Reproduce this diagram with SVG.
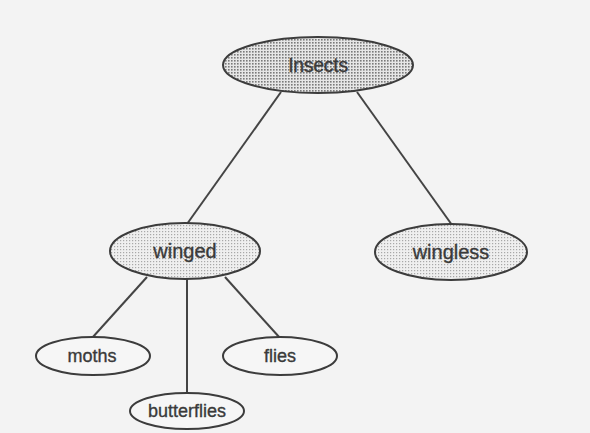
<svg xmlns="http://www.w3.org/2000/svg" width="590" height="433" viewBox="0 0 590 433">
<defs>
<pattern id="dark" width="3" height="3" patternUnits="userSpaceOnUse">
<rect width="3" height="3" fill="#e6e6e6"/>
<rect x="0" y="0" width="1.6" height="1.6" fill="#7a7a7a"/>
</pattern>
<pattern id="light" width="3" height="3" patternUnits="userSpaceOnUse">
<rect width="3" height="3" fill="#efefef"/>
<rect x="0" y="0" width="1.2" height="1.2" fill="#a8a8a8"/>
</pattern>
<style>
.n{stroke:#3c3c3c;stroke-width:2}
.leaf{fill:#f6f6f6}
.c line{stroke:#444;stroke-width:2}
text{font-family:"Liberation Sans",Arial,sans-serif;fill:#3a3a3a;stroke:#3a3a3a;stroke-width:0.35;text-anchor:middle;dominant-baseline:central}
</style>
</defs>
<rect width="590" height="433" fill="#f3f3f3"/>
<g id="connectors" class="c">
<line x1="281" y1="92" x2="187" y2="224"/>
<line x1="357" y1="92" x2="452" y2="225"/>
<line x1="147" y1="277" x2="92" y2="338"/>
<line x1="187" y1="279" x2="187" y2="393"/>
<line x1="225" y1="277" x2="280" y2="338"/>
</g>
<g id="insects"><ellipse class="n" cx="318" cy="65" rx="95" ry="28" fill="url(#dark)"/><text x="318" y="65" font-size="19.5" letter-spacing="-0.3">Insects</text></g>
<g id="winged"><ellipse class="n" cx="185" cy="251" rx="75" ry="28" fill="url(#light)"/><text x="185" y="251" font-size="20">winged</text></g>
<g id="wingless"><ellipse class="n" cx="451" cy="252" rx="76" ry="28" fill="url(#light)"/><text x="451" y="252" font-size="20">wingless</text></g>
<g id="moths"><ellipse class="n leaf" cx="93" cy="356" rx="57" ry="19"/><text x="92" y="356" font-size="18">moths</text></g>
<g id="flies"><ellipse class="n leaf" cx="280" cy="356" rx="57" ry="19"/><text x="280" y="356" font-size="18">flies</text></g>
<g id="butterflies"><ellipse class="n leaf" cx="187" cy="411" rx="57" ry="18"/><text x="187" y="411" font-size="18">butterflies</text></g>
</svg>
